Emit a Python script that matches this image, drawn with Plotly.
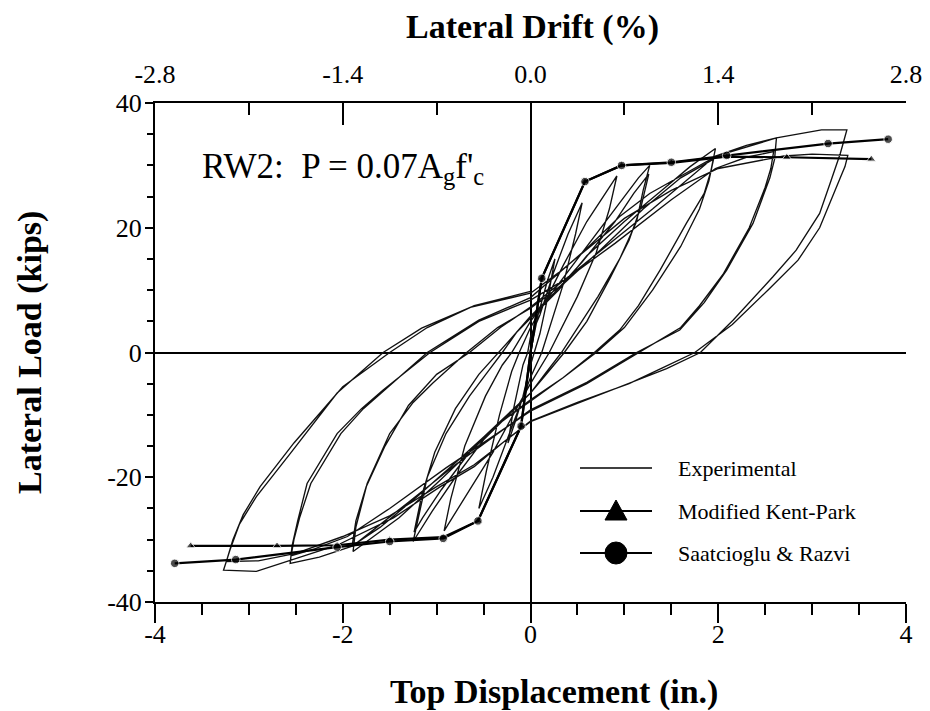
import plotly.graph_objects as go

# ---------------- data (inches, kips) ----------------
# Experimental hysteresis, one list pair per load cycle
c1_x = [0, 0.08, 0.18, 0.26, 0.2, 0.1, 0.04, 0, -0.08, -0.16, -0.24, -0.18, -0.08, -0.03, 0]
c1_y = [0, 6, 11.5, 15, 10, 3, 0, -2, -7, -11, -14.5, -9, -2, 0, 2.5]
c2_x = [0.1, 0.25, 0.4, 0.55, 0.48, 0.35, 0.2, 0.12, 0, -0.1, -0.25, -0.4, -0.55, -0.47, -0.33, -0.2, -0.12, 0]
c2_y = [6, 13, 19, 24, 19, 11, 4, 0, -4, -8, -14, -20, -25, -19, -10, -3, 0, 4]
c3_x = [0.15, 0.35, 0.6, 0.8, 0.92, 0.84, 0.7, 0.5, 0.3, 0.2, 0, -0.15, -0.4, -0.65, -0.8, -0.92, -0.85, -0.7, -0.48, -0.3, -0.2, 0]
c3_y = [8, 14, 21, 25.5, 28.3, 23, 16, 9, 3, 0, -5, -9, -16, -22, -25.5, -28.6, -23.5, -15, -7, -2, 0, 5]
c4a_x = [0.2, 0.45, 0.75, 1.0, 1.15, 1.27, 1.2, 1.13, 0.95, 0.72, 0.5, 0.33, 0.15, 0, -0.2, -0.5, -0.8, -1.05, -1.25, -1.19, -1.1, -0.9, -0.65, -0.45, -0.3, -0.15, 0]
c4a_y = [9, 14, 20, 25, 28, 30, 26, 21, 15, 9, 4, 0, -3.5, -6.5, -9.5, -14, -20, -25.5, -30.3, -26, -20, -13, -7, -3, 0, 3.2, 5.8]
c4b_x = [0.25, 0.55, 0.9, 1.1, 1.26, 1.18, 1.05, 0.85, 0.6, 0.36, 0.15, 0, -0.25, -0.6, -0.95, -1.15, -1.24, -1.16, -1.02, -0.8, -0.55, -0.34, -0.15, 0]
c4b_y = [9.5, 14.5, 21, 25.5, 28.6, 23.5, 18, 12, 5, 0, -3.8, -6.5, -10, -15, -22, -26.5, -28.8, -23, -16, -9, -3.5, 0, 3.2, 5.5]
c5a_x = [0.3, 0.6, 1.0, 1.4, 1.7, 1.97, 1.92, 1.85, 1.66, 1.38, 1.15, 0.95, 0.68, 0.35, 0, -0.3, -0.65, -1.0, -1.4, -1.7, -1.89, -1.86, -1.8, -1.74, -1.5, -1.25, -1.04, -0.68, -0.35, 0]
c5a_y = [10, 15.5, 21, 26, 29.8, 32.7, 29, 25.5, 20.7, 13.2, 7.5, 3.6, 0, -4, -7.6, -11, -16, -21, -26.5, -29.8, -31.9, -28, -24.5, -21, -13, -8, -4.9, 0, 4, 7.1]
c5b_x = [0.35, 0.75, 1.2, 1.6, 1.95, 1.9, 1.8, 1.6, 1.3, 1.0, 0.7, 0.35, 0, -0.35, -0.75, -1.2, -1.6, -1.9, -1.86, -1.75, -1.55, -1.3, -1.0, -0.65, -0.32, 0]
c5b_y = [11, 16.5, 23, 28, 31, 27.5, 23, 17, 10, 4, 0, -4, -7.8, -11.5, -17, -23, -28, -31, -27, -21.5, -15, -8.5, -3.5, 0, 4, 7.3]
c6a_x = [0.35, 0.8, 1.3, 1.97, 2.3, 2.62, 2.6, 2.55, 2.37, 2.09, 1.85, 1.59, 1.13, 0.6, 0, -0.35, -0.8, -1.3, -1.89, -2.25, -2.56, -2.54, -2.48, -2.38, -2.06, -1.8, -1.57, -1.07, -0.55, 0]
c6a_y = [11.5, 17, 23, 31.5, 33.2, 34.4, 31, 28, 20.7, 13.2, 8, 3.6, 0, -4.8, -9.2, -13, -18, -24, -31, -32.8, -33.8, -31, -27, -21, -13, -9, -6, 0, 5, 8.4]
c6b_x = [0.4, 0.9, 1.5, 1.97, 2.3, 2.59, 2.56, 2.5, 2.33, 2.05, 1.8, 1.6, 1.15, 0.6, 0, -0.4, -0.9, -1.5, -1.95, -2.3, -2.55, -2.52, -2.46, -2.34, -2.02, -1.78, -1.55, -1.1, -0.55, 0]
c6b_y = [12, 17.5, 24.5, 29.5, 31.3, 32.2, 29.5, 26.5, 20, 12.5, 7.5, 4, 0, -5, -9.4, -13.5, -18.5, -25, -29.5, -31.5, -32.6, -30, -26.5, -21, -13, -9, -6, 0, 5.2, 8.8]
c7a_x = [0.3, 0.58, 0.95, 1.27, 1.98, 2.62, 3.1, 3.37, 3.33, 3.3, 3.2, 3.08, 2.83, 2.58, 2.16, 1.81, 1.45, 1.06, 0.53, 0, -0.3, -0.6, -0.96, -1.46, -2.06, -2.56, -2.92, -3.27, -3.24, -3.2, -3.1, -2.92, -2.56, -2.06, -1.57, -1.16, -0.63, 0]
c7a_y = [12.7, 16.4, 21.8, 25.5, 31.5, 34.4, 35.7, 35.7, 33.5, 31.9, 27.5, 22.3, 16.4, 12.1, 5.2, 0, -2.6, -4.9, -7.9, -11.1, -14.5, -18.3, -21.5, -26.5, -30.9, -33.3, -35.1, -34.9, -33.3, -31.6, -27.5, -23.1, -16.2, -6.5, 0, 3.9, 7.3, 9.5]
c7b_x = [0.3, 0.6, 1.0, 1.5, 2.0, 2.7, 3.0, 3.38, 3.35, 3.3, 3.2, 3.08, 2.85, 2.55, 2.15, 1.75, 1.4, 1.05, 0.5, 0, -0.3, -0.6, -1.0, -1.5, -2.0, -2.5, -2.9, -3.24, -3.21, -3.17, -3.06, -2.88, -2.52, -2.0, -1.5, -1.1, -0.6, 0]
c7b_y = [12.8, 16.5, 21.5, 26, 29.5, 31.5, 31.8, 31.6, 29.8, 28, 24.5, 20, 14.8, 10.3, 4.5, 0, -2.5, -5, -8, -11, -14.5, -18, -21.5, -26.2, -29.5, -32.2, -33.4, -33.5, -32, -30, -26, -21.5, -14.5, -5.5, 0, 4, 7.5, 9.8]

# Analytical envelopes (start at origin)
kp_pos_x = [0, 0.12, 0.58, 0.97, 1.50, 2.09, 2.73, 3.63]
kp_pos_y = [0, 11.9, 27.4, 30.0, 30.4, 31.4, 31.3, 31.0]
kp_neg_x = [0, -0.10, -0.56, -0.93, -1.50, -2.06, -2.70, -3.62]
kp_neg_y = [0, -11.8, -27.0, -29.6, -30.0, -30.9, -31.0, -31.0]
sr_pos_x = [0, 0.12, 0.58, 0.97, 1.50, 2.09, 3.17, 3.81]
sr_pos_y = [0, 11.9, 27.4, 30.0, 30.5, 31.6, 33.5, 34.2]
sr_neg_x = [0, -0.10, -0.56, -0.93, -1.50, -2.06, -3.14, -3.79]
sr_neg_y = [0, -11.8, -27.0, -29.8, -30.3, -31.2, -33.2, -33.8]

x_ticks = [-4, -2, 0, 2, 4]
x_ticktext = ["-4", "-2", "0", "2", "4"]
drift_ticks = [-2.8, -1.4, 0.0, 1.4, 2.8]
drift_ticktext = ["-2.8", "-1.4", "0.0", "1.4", "2.8"]
y_ticks = [-40, -20, 0, 20, 40]
y_ticktext = ["-40", "-20", "0", "20", "40"]
legend_names = ["Experimental", "Modified Kent-Park", "Saatcioglu & Razvi"]

# ---------------- figure ----------------
W, H = 930, 711
ML, MR, MT, MB = 155, 24, 103, 109
PW, PH = W - ML - MR, H - MT - MB
SERIF = "Liberation Serif, Times New Roman, serif"

exp_x, exp_y = [], []
for cx, cy in [(c1_x, c1_y), (c2_x, c2_y), (c3_x, c3_y), (c4a_x, c4a_y), (c4b_x, c4b_y),
               (c5a_x, c5a_y), (c5b_x, c5b_y), (c6a_x, c6a_y), (c6b_x, c6b_y),
               (c7a_x, c7a_y), (c7b_x, c7b_y)]:
    exp_x += cx
    exp_y += cy

fig = go.Figure()
fig.add_trace(go.Scatter(x=exp_x, y=exp_y, mode="lines", name=legend_names[0],
                         line=dict(color="#111111", width=1.35), showlegend=False,
                         hoverinfo="skip"))


def msizes(xs, s):
    # no marker at the origin point
    return [0 if (v == 0) else s for v in xs]


for xs, ys in [(kp_pos_x, kp_pos_y), (kp_neg_x, kp_neg_y)]:
    fig.add_trace(go.Scatter(x=xs, y=ys, mode="lines+markers", name=legend_names[1],
                             line=dict(color="black", width=2.2),
                             marker=dict(symbol="triangle-up", size=msizes(xs, 8), color="black"),
                             showlegend=False))
for xs, ys in [(sr_pos_x, sr_pos_y), (sr_neg_x, sr_neg_y)]:
    fig.add_trace(go.Scatter(x=xs, y=ys, mode="lines+markers", name=legend_names[2],
                             line=dict(color="black", width=2.2),
                             marker=dict(symbol="circle", size=msizes(xs, 8.5), color="black"),
                             showlegend=False))
# carrier for the top drift axis (invisible)
fig.add_trace(go.Scatter(x=drift_ticks, y=[0] * len(drift_ticks), xaxis="x2", yaxis="y",
                         mode="markers", marker=dict(opacity=0, size=1),
                         hoverinfo="skip", showlegend=False))

tickfont = dict(family=SERIF, size=26, color="black")
fig.update_layout(
    width=W, height=H, margin=dict(l=ML, r=MR, t=MT, b=MB, autoexpand=False),
    paper_bgcolor="white", plot_bgcolor="white", showlegend=False,
    xaxis=dict(range=[-4, 4], tickvals=x_ticks, ticktext=x_ticktext, ticks="outside",
               ticklen=19, tickwidth=1.5, ticklabelstandoff=-11, automargin=False,
               tickcolor="black", showline=True, linecolor="black", linewidth=2,
               showgrid=False, zeroline=True, zerolinecolor="black", zerolinewidth=1.5,
               tickfont=tickfont,
               minor=dict(dtick=0.5, tick0=0, ticks="outside", ticklen=11, tickwidth=1.5,
                          tickcolor="black", showgrid=False)),
    xaxis2=dict(range=[-2.8, 2.8], overlaying="x", side="top", anchor="y",
                tickvals=drift_ticks, ticktext=drift_ticktext, ticks="inside", ticklen=22,
                tickwidth=1.5, tickcolor="black", showline=True, linecolor="black",
                linewidth=2, showgrid=False, zeroline=False, tickfont=tickfont,
                ticklabelstandoff=8, automargin=False,
                minor=dict(dtick=0.7, tick0=0, ticks="inside", ticklen=12, tickwidth=1.5,
                           tickcolor="black", showgrid=False)),
    yaxis=dict(range=[-40, 40], tickvals=y_ticks, ticktext=y_ticktext, ticks="outside",
               ticklen=8, tickwidth=1.5, ticklabelstandoff=-2, automargin=False,
               tickcolor="black", showline=True, linecolor="black", linewidth=2,
               showgrid=False, zeroline=True, zerolinecolor="black", zerolinewidth=1.5,
               tickfont=tickfont,
               minor=dict(dtick=5, tick0=0, ticks="outside", ticklen=6, tickwidth=1.5,
                          tickcolor="black", showgrid=False)),
    yaxis2=dict(range=[-40, 40], overlaying="y", side="right", anchor="x",
                tickvals=y_ticks, ticks="inside", ticklen=24, tickwidth=1.5,
                tickcolor="black", showline=True, linecolor="black", linewidth=2,
                showgrid=False, zeroline=False, showticklabels=False, automargin=False,
                minor=dict(dtick=5, tick0=0, ticks="inside", ticklen=12, tickwidth=1.5,
                           tickcolor="black", showgrid=False)),
)


def px(xp):
    return (xp - ML) / PW


def py(yp):
    return (H - MB - yp) / PH


title_font = dict(family=SERIF, size=34, color="black")
annotations = [
    dict(text="<b>Lateral Drift (%)</b>", x=px(532), y=py(27), xref="paper", yref="paper",
         showarrow=False, font=title_font, xanchor="center", yanchor="middle"),
    dict(text="<b>Top Displacement (in.)</b>", x=px(554), y=py(692), xref="paper", yref="paper",
         showarrow=False, font=title_font, xanchor="center", yanchor="middle"),
    dict(text="<b>Lateral Load (kips)</b>", x=px(30), y=py(352), xref="paper", yref="paper",
         showarrow=False, font=title_font, xanchor="center", yanchor="middle", textangle=-90),
    dict(text="RW2:  P = 0.07A<sub>g</sub>f'<sub>c</sub>", x=px(200), y=py(168),
         xref="paper", yref="paper", showarrow=False,
         font=dict(family=SERIF, size=35, color="black"), xanchor="left", yanchor="middle"),
]

# manual legend
rows = [468, 511, 553]
leg_font = dict(family=SERIF, size=22, color="black")
shapes = []
for name, ry in zip(legend_names, rows):
    annotations.append(dict(text=name, x=px(676), y=py(ry), xref="paper", yref="paper",
                            showarrow=False, font=leg_font, xanchor="left", yanchor="middle"))
    shapes.append(dict(type="line", xref="paper", yref="paper", x0=px(580), x1=px(652),
                       y0=py(ry), y1=py(ry),
                       line=dict(color="black", width=2 if name != legend_names[0] else 1.3)))
mx = 616
shapes.append(dict(type="path", xref="paper", yref="paper",
                   path=f"M {px(mx)},{py(rows[1]-11)} L {px(mx+11)},{py(rows[1]+9)} L {px(mx-11)},{py(rows[1]+9)} Z",
                   fillcolor="black", line=dict(color="black", width=1)))
shapes.append(dict(type="circle", xref="paper", yref="paper",
                   x0=px(mx - 11), x1=px(mx + 11), y0=py(rows[2] + 11), y1=py(rows[2] - 11),
                   fillcolor="black", line=dict(color="black", width=1)))

fig.update_layout(annotations=annotations, shapes=shapes)
fig.write_html("out.html")
